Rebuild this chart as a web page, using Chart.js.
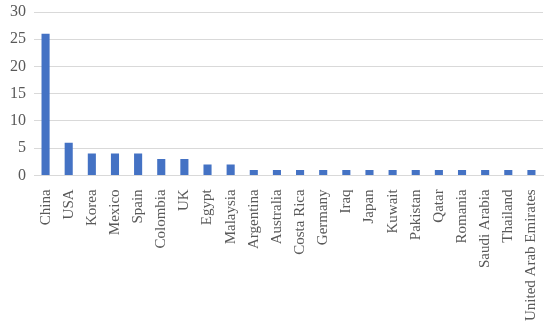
<!DOCTYPE html>
<html><head><meta charset="utf-8">
<script src="https://cdn.jsdelivr.net/npm/chart.js@4"></script>
<style>html,body{margin:0;padding:0;background:#fff}#w{width:550px;height:327px}</style>
</head><body><div id="w"><canvas id="c"></canvas></div>
<script>
const categories = ["China","USA","Korea","Mexico","Spain","Colombia","UK","Egypt","Malaysia","Argentina","Australia","Costa Rica","Germany","Iraq","Japan","Kuwait","Pakistan","Qatar","Romania","Saudi Arabia","Thailand","United Arab Emirates"];
const values = [26,6,4,4,4,3,3,2,2,1,1,1,1,1,1,1,1,1,1,1,1,1];
const yTicks = [0,5,10,15,20,25,30];
const fam = "'Liberation Serif', serif";
new Chart(document.getElementById('c'), {
  type:'bar',
  data:{labels:categories, datasets:[{data:values, backgroundColor:'#4472C4', barPercentage:0.35, categoryPercentage:1}]},
  options:{
    responsive:true, maintainAspectRatio:false, animation:false,
    layout:{padding:{left:2,right:7,top:0,bottom:0}},
    plugins:{legend:{display:false}, tooltip:{enabled:false}},
    scales:{
      x:{grid:{display:false}, border:{color:'#d9d9d9'},
         ticks:{color:'#595959', font:{family:fam, size:15, lineHeight:0.6}, minRotation:90, maxRotation:90, autoSkip:false, padding:6}},
      y:{min:0,max:30, afterBuildTicks:(ax)=>{ax.ticks=yTicks.map(v=>({value:v}));},
         grid:{color:'#d9d9d9', drawTicks:false}, border:{display:false},
         ticks:{color:'#595959', font:{family:fam, size:16, lineHeight:0.5}, padding:8}}
    }
  }
});
</script></body></html>
